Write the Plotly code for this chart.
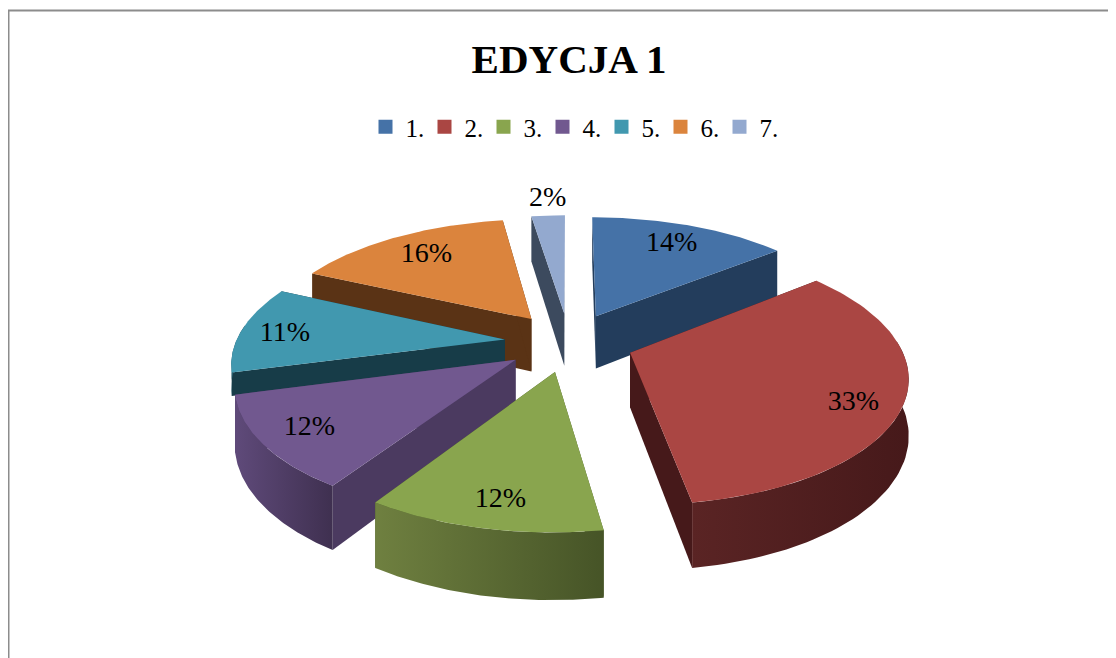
import numpy as np
import plotly.graph_objects as go

# ---- data ----
categories = ["1.", "2.", "3.", "4.", "5.", "6.", "7."]
values = [14.2, 33.4, 11.6, 11.7, 11.1, 15.7, 2.4]
percent_labels = ["14%", "33%", "12%", "12%", "11%", "16%", "2%"]

# ---- style ----
top_colors = ["#4572A7", "#AA4643", "#89A54E", "#71588F", "#4198AF", "#DB843D", "#93A9CF"]
inner_colors = ["#233D5C", "#46191A", "#4A5A2A", "#4B3A60", "#173C48", "#5A3315", "#3C4A5E"]
wall_left = ["#2F4F75", "#5A2424", "#6F8040", "#5F4A7A", "#2A6272", "#7A4A20", "#4A5A70"]
wall_right = ["#233D5C", "#46191A", "#465427", "#3F3050", "#173C48", "#5A3315", "#3C4A5E"]
label_radial = [0.78, 0.84, 0.84, 0.83, 0.83, 0.76, 1.2]
label_turn = [0, 5, -1, 0, -1.7, 0, 0.5]
depth_scale = [1, 1, 1, 1, 0.42, 1, 1]
draw_order = [6, 0, 5, 4, 1, 3, 2]

# the page adds an 8px body margin, so the figure covers pixels 8..1116 and 8..658
PAGE_MARGIN = 8
W, H = 1116, 658
CX, CY = 569.0, 342.0
RX, RY = 269.0, 123.0
PERSP = 0.164
EXPLODE = 0.24
DEPTH = 54.0
FONT = "Liberation Serif"


def paper_x(px):
    return (px - PAGE_MARGIN) / (W - PAGE_MARGIN)


def paper_y(py):
    return 1 - (py - PAGE_MARGIN) / (H - PAGE_MARGIN)


def project(u, v, z=0.0):
    p = 1.0 / (1.0 + PERSP * np.asarray(v))
    return CX + RX * np.asarray(u) * p, CY - RY * np.asarray(v) * p + z * p


total = sum(values)
edges = np.cumsum([0] + values) / total * 2 * np.pi
fig = go.Figure()


def poly(xs, ys, color=None, gradient=None):
    kw = dict(fillcolor=color) if gradient is None else dict(fillgradient=gradient)
    fig.add_trace(go.Scatter(x=list(xs) + [xs[0]], y=list(ys) + [ys[0]], mode="lines", fill="toself",
                             line=dict(width=0, color="rgba(0,0,0,0)"), hoverinfo="skip",
                             showlegend=False, **kw))


for i in draw_order:
    a0, a1 = edges[i], edges[i + 1]
    mid = (a0 + a1) / 2
    ou, ov = EXPLODE * np.sin(mid), EXPLODE * np.cos(mid)
    th = np.linspace(a0, a1, 80)
    au, av = ou + np.sin(th), ov + np.cos(th)
    d = DEPTH * depth_scale[i]
    ax, ay = project(au, av)
    bx, by = project(au, av, d)
    cx0, cy0 = project(ou, ov)
    cx1, cy1 = project(ou, ov, d)
    walls = [([cx0, ax[0], bx[0], cx1], [cy0, ay[0], by[0], cy1]),
             ([cx0, ax[-1], bx[-1], cx1], [cy0, ay[-1], by[-1], cy1])]
    walls.sort(key=lambda w: max(w[1]))
    for wx, wy in walls:
        poly(wx, wy, color=inner_colors[i])
    vis = np.cos(th) <= 0.12
    if vis.any():
        sx = np.concatenate([ax[vis], bx[vis][::-1]])
        sy = np.concatenate([ay[vis], by[vis][::-1]])
        grad = dict(type="horizontal", colorscale=[[0, wall_left[i]], [1, wall_right[i]]])
        poly(sx, sy, gradient=grad)
    poly(np.concatenate([[cx0], ax]), np.concatenate([[cy0], ay]), color=top_colors[i])

lu, lv = [], []
for i in range(len(values)):
    mid = (edges[i] + edges[i + 1]) / 2
    ang = mid + np.radians(label_turn[i])
    r = label_radial[i]
    lu.append(EXPLODE * np.sin(mid) + r * np.sin(ang))
    lv.append(EXPLODE * np.cos(mid) + r * np.cos(ang))
lx, ly = project(np.array(lu), np.array(lv))
fig.add_trace(go.Scatter(x=lx, y=ly, mode="text", text=percent_labels, textposition="middle center",
                         textfont=dict(family=FONT, size=28, color="#000000"),
                         hoverinfo="skip", showlegend=False))

for name, c in zip(categories, top_colors):
    fig.add_trace(go.Scatter(x=[None], y=[None], mode="markers", name=name,
                             marker=dict(symbol="square", size=14, color=c)))

fig.add_shape(type="line", xref="paper", yref="paper", x0=0, x1=1, y0=paper_y(10.5), y1=paper_y(10.5),
              line=dict(color="#8C8C8C", width=2))
fig.add_shape(type="line", xref="paper", yref="paper", x0=paper_x(8.5), x1=paper_x(8.5), y0=paper_y(10.5), y1=0,
              line=dict(color="#8C8C8C", width=2))

fig.update_layout(
    width=W - PAGE_MARGIN, height=H - PAGE_MARGIN, margin=dict(l=0, r=0, t=0, b=0),
    paper_bgcolor="#FFFFFF", plot_bgcolor="#FFFFFF",
    xaxis=dict(range=[PAGE_MARGIN, W], visible=False, domain=[0, 1]),
    yaxis=dict(range=[H, PAGE_MARGIN], visible=False, domain=[0, 1]),
    title=dict(text="<b>EDYCJA 1</b>", x=paper_x(569), xanchor="center", y=paper_y(59), yanchor="middle",
               font=dict(family=FONT, size=41, color="#000000")),
    legend=dict(orientation="h", x=paper_x(572), xanchor="center", y=paper_y(127), yanchor="middle",
                font=dict(family=FONT, size=25, color="#000000"), bgcolor="rgba(0,0,0,0)",
                itemwidth=30, entrywidth=14, entrywidthmode="pixels"),
)
fig.write_html("out.html")
